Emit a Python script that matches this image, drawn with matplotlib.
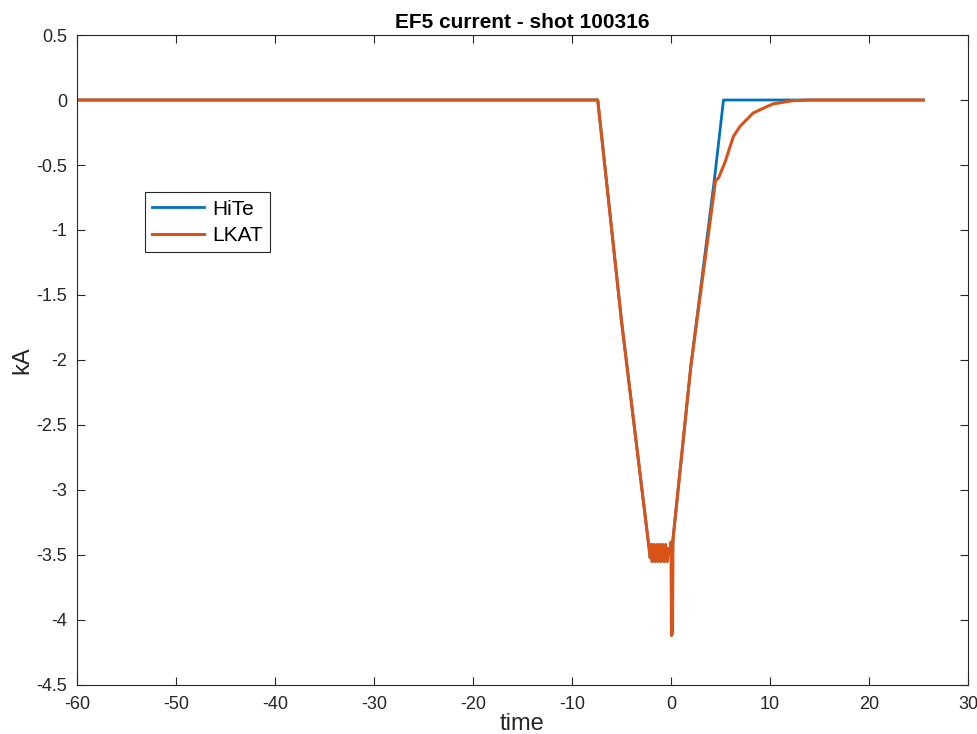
import numpy as np
import matplotlib.pyplot as plt

# Breakpoints (time, kA)
hite_t = [-60, -7.4, -5.0, -2.1, -2.0, -1.9, -1.75, -1.6, -1.45, -1.3, -1.15, -1.0,
          -0.85, -0.7, -0.55, -0.4, -0.25, -0.1, 0.0, 0.1, 0.2, 2.0, 4.4, 5.3, 25.5]
hite_i = [0, 0, -1.70, -3.52, -3.42, -3.55, -3.42, -3.55, -3.42, -3.55, -3.42, -3.55,
          -3.42, -3.55, -3.42, -3.55, -3.45, -3.50, -3.40, -3.55, -3.38, -2.05, -0.60, 0, 0]

lkat_t = [-60, -7.4, -5.0, -2.1, -2.0, -1.9, -1.75, -1.6, -1.45, -1.3, -1.15, -1.0,
          -0.85, -0.7, -0.55, -0.4, -0.25, -0.1, 0.0, 0.05, 0.15, 0.2, 2.0, 4.5, 4.8,
          5.45, 6.3, 7.0, 8.3, 9.7, 10.3, 12.3, 14.0, 25.5]
lkat_i = [0, 0, -1.70, -3.52, -3.42, -3.55, -3.42, -3.55, -3.42, -3.55, -3.42, -3.55,
          -3.42, -3.55, -3.42, -3.55, -3.45, -3.50, -3.40, -4.12, -4.10, -3.38, -2.05,
          -0.62, -0.60, -0.48, -0.28, -0.20, -0.10, -0.05, -0.03, -0.005, 0, 0]

plt.rcParams['font.family'] = ['Liberation Sans', 'DejaVu Sans']
plt.rcParams['axes.unicode_minus'] = False

fig = plt.figure(figsize=(9.77, 7.34), dpi=100)
ax = fig.add_axes([0.0788, 0.0668, 0.912, 0.8855])

ax.plot(hite_t, hite_i, color='#0072BD', linewidth=2, label='HiTe')
ax.plot(lkat_t, lkat_i, color='#D95319', linewidth=2.2, label='LKAT')

ax.set_xlim(-60, 30)
ax.set_ylim(-4.5, 0.5)
ax.set_xticks(np.arange(-60, 31, 10))
ax.set_yticks(np.arange(-4.5, 0.51, 0.5))
ax.set_yticklabels(['-4.5', '-4', '-3.5', '-3', '-2.5', '-2', '-1.5', '-1', '-0.5', '0', '0.5'])

ax.tick_params(direction='in', top=True, right=True, length=6, width=0.8,
               labelsize=13, color='#262626', labelcolor='#262626')
ax.tick_params(axis='x', pad=8)
ax.tick_params(axis='y', pad=7)
for s in ax.spines.values():
    s.set_color('#262626')
    s.set_linewidth(0.8)

ax.set_xlabel('time', fontsize=17, color='#262626', labelpad=0)
ax.set_ylabel('kA', fontsize=17, color='#262626', labelpad=2)
ax.set_title('EF5 current - shot 100316', fontsize=15, fontweight='bold', pad=5)

leg = ax.legend(loc='upper left', bbox_to_anchor=(0.076, 0.758), fontsize=15,
                fancybox=False, edgecolor='#262626', framealpha=1,
                handlelength=2.5, borderpad=0.35, labelspacing=0.35, handletextpad=0.4,
                borderaxespad=0)
leg.get_frame().set_linewidth(0.8)

fig.savefig('out.png', dpi=100)
